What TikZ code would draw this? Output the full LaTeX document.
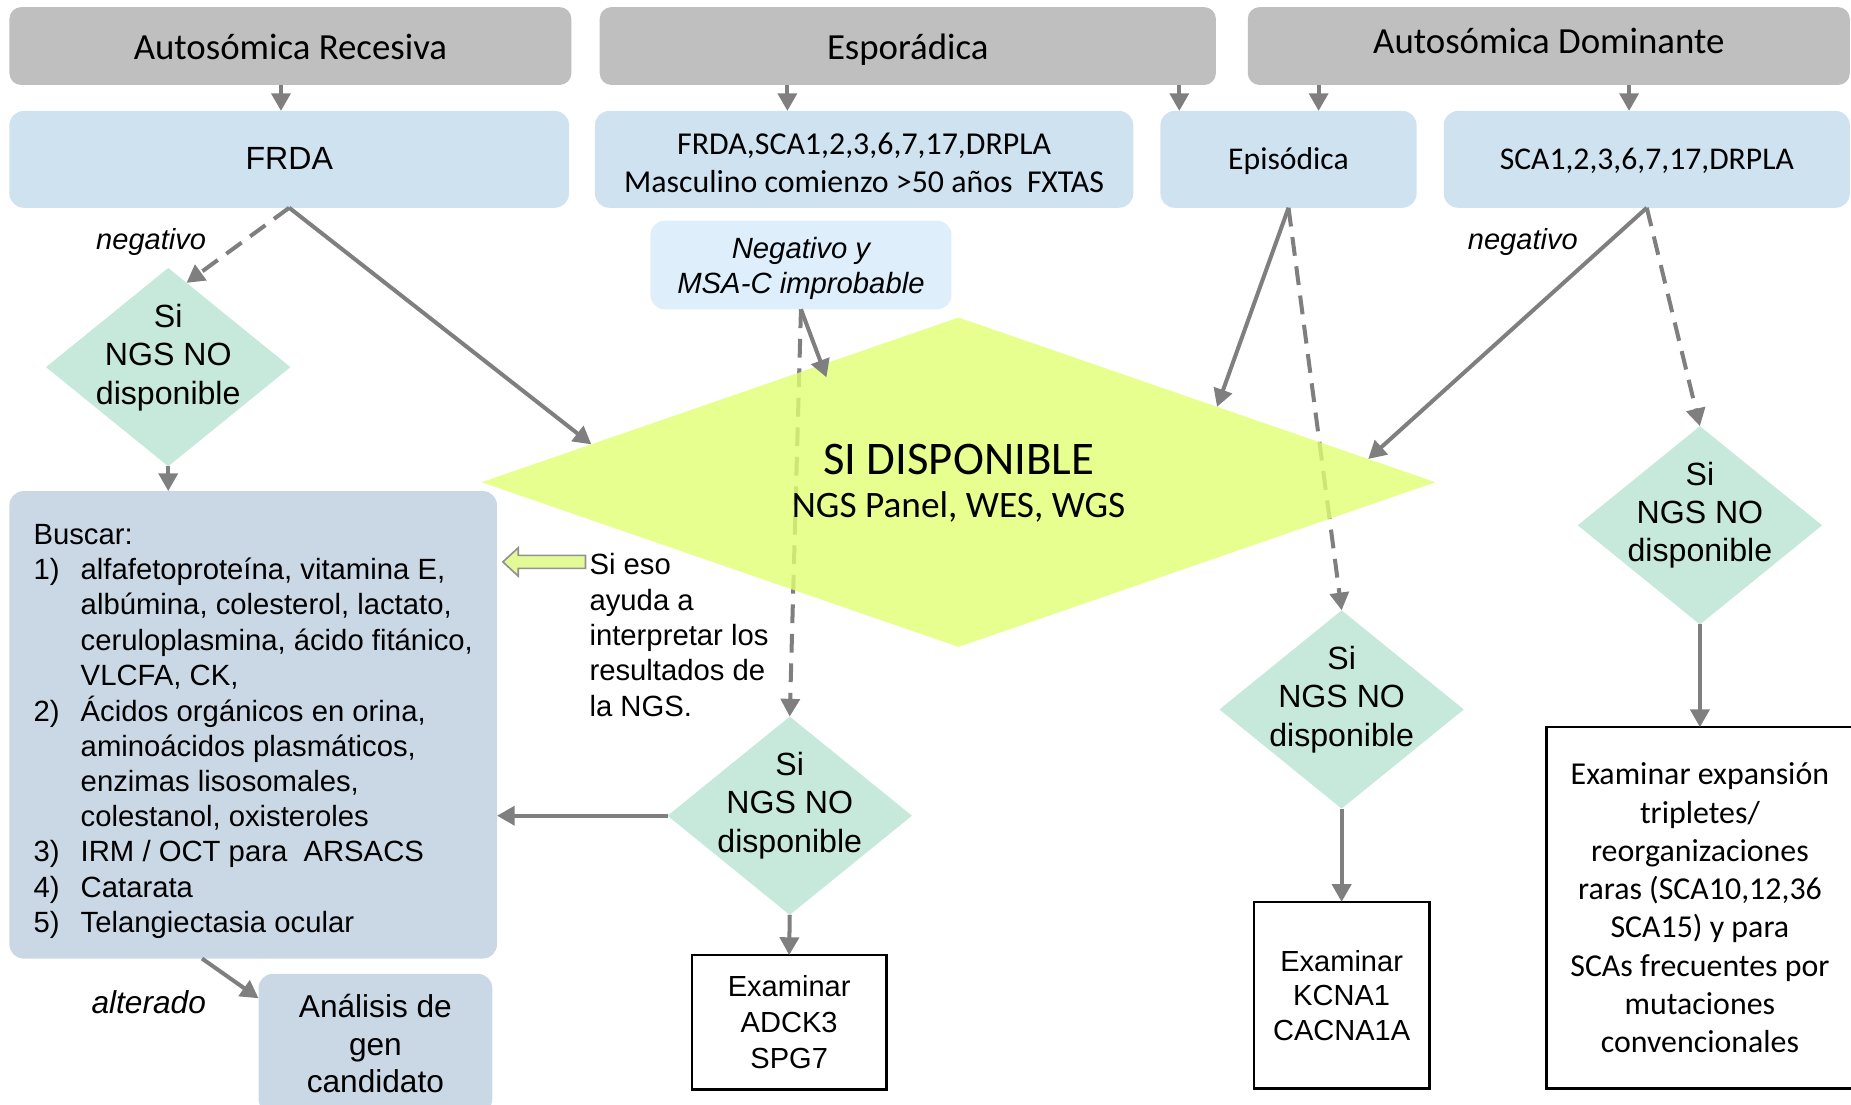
\documentclass[tikz,border=0pt]{standalone}
\usepackage{fontspec}
\setmainfont{Liberation Sans}
\newfontfamily\carlito{Carlito}
\usetikzlibrary{shapes.geometric,arrows.meta,calc}
\definecolor{hdr}{HTML}{BFBFBF}
\definecolor{lblue}{HTML}{CFE2F0}
\definecolor{nblue}{HTML}{DEEEFB}
\definecolor{bboxc}{HTML}{CAD8E5}
\definecolor{mint}{HTML}{C6E9DB}
\definecolor{lime}{RGB}{224,255,115}
\definecolor{limearrow}{HTML}{E4FA96}
\definecolor{arrg}{HTML}{7F7F7F}
\begin{document}
\begin{tikzpicture}[x=0.5pt,y=-0.5pt,
  hdrbox/.style={rounded corners=5pt, fill=hdr, inner sep=0pt, outer sep=0pt, minimum height=33pt, text height=14pt, text depth=2.7pt, font=\carlito\fontsize{15.6}{18}\selectfont},
  lbox/.style={rounded corners=6pt, fill=lblue, inner sep=0pt, outer sep=0pt, minimum height=41pt},
  onel/.style={text height=11pt, text depth=2pt},
  nbox/.style={rounded corners=6pt, fill=nblue, inner sep=0pt, outer sep=0pt},
  bbox/.style={rounded corners=6pt, fill=bboxc, inner sep=0pt, outer sep=0pt, align=center},
  wbox/.style={draw=black, line width=1pt, fill=white, inner sep=0pt, outer sep=0pt, align=center},
  sdia/.style={diamond, fill=mint, inner sep=0pt, outer sep=0pt, minimum width=103.5pt, minimum height=84pt},
  txt/.style={inner sep=0pt, align=center},
  dtext/.style={txt, font=\fontsize{13.6}{16.25}\selectfont},
  lbl/.style={inner sep=0pt, font=\itshape\fontsize{12.3}{14}\selectfont},
  arr/.style={draw=arrg, line width=1.7pt, -{Triangle[length=7.5pt,width=8pt]}},
  dsh/.style={dash pattern=on 8pt off 4.5pt},
]
\useasboundingbox (0,0) rectangle (1568,936);

% headers
\node[hdrbox, minimum width=238pt] (h1) at (246,39) {Autosómica Recesiva};
\node[hdrbox, minimum width=261pt] (h2) at (769,39) {Esporádica};
\node[hdrbox, minimum width=255pt, text height=11pt, text depth=5pt] (h3) at (1312,39) {Autosómica Dominante};

% second row
\node[lbox, onel, minimum width=237pt, font=\fontsize{13.6}{16}\selectfont] (frda) at (245,135) {FRDA};
\node[lbox, minimum width=228pt] (fsca) at (732,135) {};
\node[txt, font=\carlito\fontsize{13.5}{16.2}\selectfont] (fscat) at (732,138) {FRDA,SCA1,2,3,6,7,17,DRPLA\\Masculino comienzo >50 años\ \ FXTAS};
\node[lbox, onel, minimum width=108.5pt, font=\carlito\fontsize{13.4}{16}\selectfont] (epi) at (1091.5,135) {Episódica};
\node[lbox, onel, minimum width=172pt, font=\carlito\fontsize{13.4}{16}\selectfont] (sca) at (1395,135) {SCA1,2,3,6,7,17,DRPLA};

\node[nbox, minimum width=127.5pt, minimum height=37.5pt] (neg) at (678.5,224.5) {};
\node[txt, font=\itshape\fontsize{12.4}{14.75}\selectfont] (negt) at (678.5,227.5) {Negativo y\\MSA-C improbable};

% Buscar box
\node[bbox, minimum width=206.5pt, minimum height=198pt] (busc) at (214.5,614) {};
\node[inner sep=0pt, font=\fontsize{12.4}{14.9}\selectfont] (busct) at (214.5,619.5) {%
\begin{tabular}{@{}p{20pt}@{}l@{}}
\multicolumn{2}{@{}l@{}}{Buscar:}\\
1) & alfafetoproteína, vitamina E,\\
 & albúmina, colesterol, lactato,\\
 & ceruloplasmina, ácido fitánico,\\
 & VLCFA, CK,\\
2) & Ácidos orgánicos en orina,\\
 & aminoácidos plasmáticos,\\
 & enzimas lisosomales,\\
 & colestanol, oxisteroles\\
3) & IRM / OCT para\ \ ARSACS\\
4) & Catarata\\
5) & Telangiectasia ocular
\end{tabular}};

\node[bbox, minimum width=99pt, minimum height=59pt, font=\fontsize{13.4}{16}\selectfont] (anal) at (318,884) {Análisis de\\gen\\candidato};

% white boxes
\node[wbox, minimum width=82.5pt, minimum height=57pt, font=\fontsize{12.3}{15.2}\selectfont] (adck) at (668.5,866) {Examinar\\ADCK3\\SPG7};
\node[wbox, minimum width=74.5pt, minimum height=79pt, font=\fontsize{12.3}{14.6}\selectfont] (kcna) at (1136.5,843) {Examinar\\KCNA1\\CACNA1A};
\node[wbox, minimum width=130pt, minimum height=153pt, font=\carlito\fontsize{13.5}{16.2}\selectfont] (exam) at (1440,769) {Examinar expansión\\tripletes/\\reorganizaciones\\raras (SCA10,12,36\\SCA15) y para\\SCAs frecuentes por\\mutaciones\\convencionales};

% small diamonds
\node[sdia] (d1) at (142.5,311) {};
\node[dtext] (d1t) at (142.5,303) {Si\\NGS NO\\disponible};
\node[sdia] (d2) at (669,691) {};
\node[dtext] (d2t) at (669,682.5) {Si\\NGS NO\\disponible};
\node[sdia] (d3) at (1136.5,601) {};
\node[dtext] (d3t) at (1136.5,592.5) {Si\\NGS NO\\disponible};
\node[sdia] (d4) at (1440,445) {};
\node[dtext] (d4t) at (1440,436.5) {Si\\NGS NO\\disponible};

% header arrows
\coordinate (xa) at (238,0);
\coordinate (xb) at (667,0);
\coordinate (xc) at (999,0);
\coordinate (xd) at (1117,0);
\coordinate (xe) at (1380,0);
\draw[arr] (h1.south -| xa) -- (frda.north -| xa);
\draw[arr] (h2.south -| xb) -- (fsca.north -| xb);
\draw[arr] (h2.south -| xc) -- (epi.north -| xc);
\draw[arr] (h3.south -| xd) -- (epi.north -| xd);
\draw[arr] (h3.south -| xe) -- (sca.north -| xe);

% dashed lines passing behind the big diamond
\draw[arr,dsh] (neg.south) -- (d2.north);
\draw[arr,dsh] (epi.south) -- (d3.north);

% big diamond
\node[diamond, fill=lime, fill opacity=0.8, inner sep=0pt, outer sep=0pt, minimum width=404pt, minimum height=139.5pt] (sd) at (812,408.5) {};
\node[txt, font=\carlito\fontsize{19.8}{18.25}\selectfont] (sdt) at (812,409) {SI DISPONIBLE\\\fontsize{15.8}{18.25}\selectfont NGS Panel, WES, WGS};

% connectors
\draw[arr,dsh] (frda.south) -- ($(d1.north)!0.15!(d1.east)$);
\draw[arr] (frda.south) -- ($(sd.north)!0.77!(sd.west)$);
\draw[arr] (d1.south) -- (d1.south |- busc.north);
\draw[arr] (neg.south) -- ($(sd.north)!0.277!(sd.west)+(0,12)$);
\draw[arr] (epi.south) -- ($(sd.north)!0.542!(sd.east)$);
\draw[arr] (sca.south) -- ($(sd.north)!0.859!(sd.east)$);
\draw[arr,dsh] (sca.south) -- (d4.north);
\draw[arr] (d4.south) -- (exam.north);
\draw[arr] (d3.south) -- (kcna.north);
\draw[arr] (d2.south) -- (adck.north);
\draw[arr] (d2.west) -- (d2.west -| busc.east);
\draw[arr] ($(busc.south west)!0.395!(busc.south east)$) -- ($(anal.west)!0.65!(anal.north west)$);

% hollow arrow and note
\draw[draw=arrg!85, line width=0.7pt, fill=limearrow] (426,476) -- (439,464) -- (439,470.5) -- (496,470.5) -- (496,481.5) -- (439,481.5) -- (439,488) -- cycle;
\node[anchor=west, align=left, inner sep=0pt, font=\fontsize{12.4}{15}\selectfont] (sieso) at (499,538) {Si eso\\ayuda a\\interpretar los\\resultados de\\la NGS.};

% labels
\node[lbl] (lneg1) at (128,205) {negativo};
\node[lbl] (lneg2) at (1290,205) {negativo};
\node[lbl, font=\itshape\fontsize{13.4}{15}\selectfont] (lalt) at (126,849) {alterado};
\end{tikzpicture}
\end{document}
